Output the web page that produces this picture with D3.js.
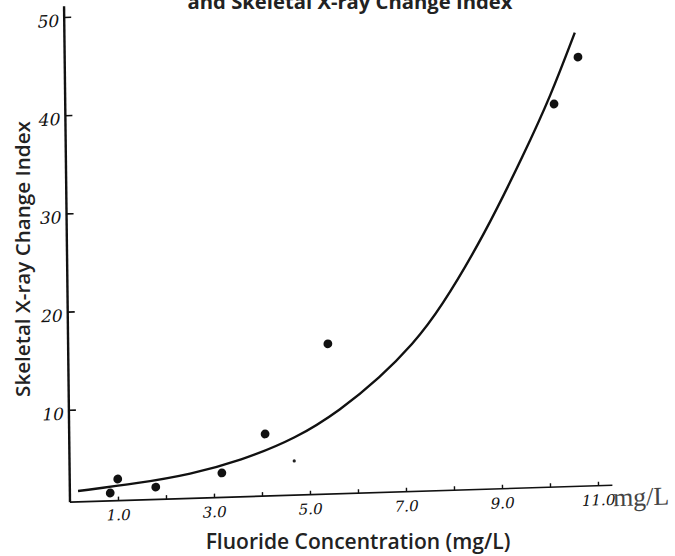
<!DOCTYPE html>
<html>
<head>
<meta charset="utf-8">
<script src="https://cdn.jsdelivr.net/npm/d3@7"></script>
<style>
  body { margin: 0; background: #fff; }
</style>
</head>
<body>
<svg id="drawing_region"></svg>
<script>
// tick values and labels
const xMinorTicks = [1, 2, 3, 4, 5, 6, 7, 8, 9, 10, 11];
const xTicks = [1, 3, 5, 7, 9, 11];
const xTickLabels = ["1.0", "3.0", "5.0", "7.0", "9.0", "11.0"];
const yTicks = [10, 20, 30, 40, 50];
const yTickLabels = ["10", "20", "30", "40", "50"];

// observed points (mg/L, index)
const fluoride = [0.84, 1.0, 1.79, 3.17, 4.08, 5.41, 10.18, 10.69];
const xrayIndex = [1.4, 2.8, 1.86, 3.09, 6.92, 15.9, 39.6, 44.3];
// stray small speck on the scan
const speckX = [4.68];
const speckY = [4.08];

// hand drawn fitted curve
const curveX = [0.17, 1.46, 2.51, 3.55, 4.74, 5.65, 6.49, 7.18, 7.75, 8.71, 9.56, 10.1, 10.63];
const curveY = [1.7, 2.32, 3.05, 4.25, 6.4, 9.1, 12.3, 15.6, 19.0, 26.6, 34.8, 40.3, 46.8];

const width = 675;
const height = 556;

const svg = d3.select('#drawing_region')
    .attr('width', width)
    .attr('height', height);

// the scan is slightly skewed, so the plot frame is too
const plot = svg.append('g')
    .attr('transform', 'translate(70,502) matrix(1,-0.031,0.012,1,0,0)');

const xscale = d3.scaleLinear().domain([0, 11]).range([0, 528]);
const yscale = d3.scaleLinear().domain([0, 50]).range([6, -485]);

const tickFont = "'DejaVu Serif', 'Liberation Serif', serif";

// axis lines
const axisLine = d3.line().x(d => xscale(d[0])).y(d => yscale(d[1]));
plot.append('path')
    .attr('d', axisLine([[0, 0.6], [0, 51.1]]))
    .attr('stroke', '#111').attr('stroke-width', 2.4).attr('fill', 'none');
plot.append('path')
    .attr('d', axisLine([[0, 0.6], [11.3, 0.6]]))
    .attr('stroke', '#111').attr('stroke-width', 1.6).attr('fill', 'none');

// y axis ticks + labels
const yaxis = d3.axisLeft(yscale)
    .tickValues(yTicks)
    .tickFormat((d, i) => yTickLabels[i])
    .tickSize(-7)
    .tickPadding(5);
plot.append('g')
    .call(yaxis)
    .call(g => g.select('.domain').remove())
    .call(g => g.selectAll('line').attr('stroke', '#111').attr('stroke-width', 1.6))
    .call(g => g.selectAll('text')
        .attr('font-family', tickFont)
        .attr('font-style', 'italic')
        .attr('font-size', 17)
        .attr('fill', '#111')
        .attr('dy', '0.55em'));

// x axis minor ticks (upward)
const xminor = d3.axisBottom(xscale)
    .tickValues(xMinorTicks)
    .tickSize(-4)
    .tickFormat('');
plot.append('g')
    .attr('transform', `translate(0,${yscale(0.6)})`)
    .call(xminor)
    .call(g => g.select('.domain').remove())
    .call(g => g.selectAll('line').attr('stroke', '#111').attr('stroke-width', 1.4));

// x axis labels
const xaxis = d3.axisBottom(xscale)
    .tickValues(xTicks)
    .tickFormat((d, i) => xTickLabels[i])
    .tickSize(0)
    .tickPadding(9);
plot.append('g')
    .attr('transform', `translate(0,${yscale(0.6)})`)
    .call(xaxis)
    .call(g => g.select('.domain').remove())
    .call(g => g.selectAll('text')
        .attr('font-family', tickFont)
        .attr('font-style', 'italic')
        .attr('font-size', 15)
        .attr('fill', '#111'));

// unit after the last tick label
const unit = plot.append('text')
    .attr('x', xscale(11) + 15)
    .attr('y', yscale(0.6) + 21)
    .attr('font-family', "'Liberation Serif', serif")
    .attr('font-size', 20)
    .attr('fill', '#444')
    .text('mg/L');

// fitted curve
const line = d3.line()
    .x((d, i) => xscale(curveX[i]))
    .y((d, i) => yscale(curveY[i]))
    .curve(d3.curveBasis);
plot.append('path')
    .attr('d', line(curveX))
    .attr('fill', 'none')
    .attr('stroke', '#111')
    .attr('stroke-width', 2.4);

// data points
plot.selectAll('circle.pt')
    .data(fluoride)
    .enter().append('circle')
    .attr('class', 'pt')
    .attr('cx', d => xscale(d))
    .attr('cy', (d, i) => yscale(xrayIndex[i]))
    .attr('r', 4.4)
    .attr('fill', '#111');

plot.selectAll('circle.speck')
    .data(speckX)
    .enter().append('circle')
    .attr('class', 'speck')
    .attr('cx', d => xscale(d))
    .attr('cy', (d, i) => yscale(speckY[i]))
    .attr('r', 1.6)
    .attr('fill', '#222');

// size text to the width it has in the picture
function fitText(sel, target) {
    const fs = parseFloat(sel.attr('font-size'));
    const w = sel.node().getComputedTextLength();
    sel.attr('font-size', fs * target / w);
}

const labelFont = "'Open Sans', 'Noto Sans', sans-serif";

const title = svg.append('text')
    .attr('x', 350)
    .attr('y', 9)
    .attr('text-anchor', 'middle')
    .attr('font-family', labelFont)
    .attr('font-weight', 'bold')
    .attr('font-size', 20)
    .attr('fill', '#222')
    .text('and Skeletal X-ray Change Index');
fitText(title, 325);

const xlabel = svg.append('text')
    .attr('x', 358)
    .attr('y', 549)
    .attr('text-anchor', 'middle')
    .attr('font-family', labelFont)
    .attr('font-weight', 600)
    .attr('font-size', 20)
    .attr('fill', '#222')
    .text('Fluoride Concentration (mg/L)');
fitText(xlabel, 305);

const ylabel = svg.append('text')
    .attr('transform', 'translate(30,259) rotate(-90)')
    .attr('text-anchor', 'middle')
    .attr('font-family', labelFont)
    .attr('font-weight', 600)
    .attr('font-size', 20)
    .attr('fill', '#222')
    .text('Skeletal X-ray Change Index');
fitText(ylabel, 276);

fitText(unit, 56);
</script>
</body>
</html>
